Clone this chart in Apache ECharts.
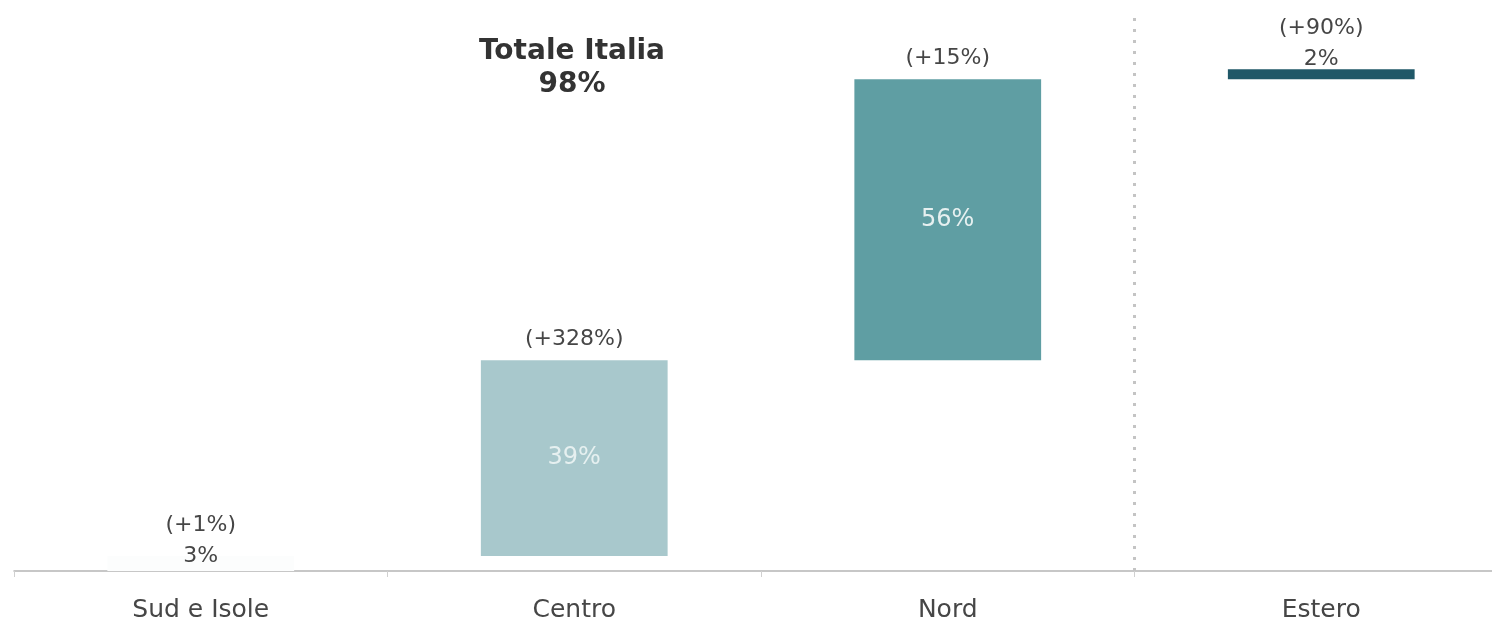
<!DOCTYPE html>
<html>
<head>
<meta charset="utf-8">
<script src="https://cdn.jsdelivr.net/npm/echarts@6/dist/echarts.min.js"></script>
<style>
html,body{margin:0;padding:0;background:#fff;}
#c{width:1492px;height:624px;}
</style>
</head>
<body>
<div id="c"></div>
<script>
const categories = ['Sud e Isole', 'Centro', 'Nord', 'Estero'];
const shares = [3, 39, 56, 2];
const changes = ['+1%', '+328%', '+15%', '+90%'];
const totalLabel = 'Totale Italia';
const totalValue = 98;
const separatorBefore = 'Estero';

// waterfall base = cumulative sum of previous shares
const bases = [];
let acc = 0;
for (let i = 0; i < shares.length; i++) { bases.push(acc); acc += shares[i]; }

const barColors = ['#fcfdfd', '#a8c8cc', '#5f9ea3', '#205868'];
const insideLabel = [false, true, true, false];
const topOffsets = [16, 0, 0, 6];

const chart = echarts.init(document.getElementById('c'));
const font = '"DejaVu Sans", sans-serif';

const valueData = shares.map((v, i) => {
  const d = { value: v, itemStyle: { color: barColors[i] } };
  if (insideLabel[i]) {
    d.label = { show: true, position: 'inside', formatter: v + '%', color: '#e6f0f0', fontSize: 24, fontFamily: font };
  } else {
    d.label = { show: true, position: 'top', distance: 0, offset: [0, topOffsets[i]],
      formatter: '(' + changes[i] + ')\n' + v + '%', color: '#464646', fontSize: 22, lineHeight: 31, fontFamily: font };
  }
  return d;
});

const changeData = changes.map((c, i) => ({
  value: 0,
  label: { show: insideLabel[i], position: 'top', distance: 10, formatter: '(' + c + ')', color: '#464646', fontSize: 22, fontFamily: font }
}));

const sepIndex = categories.indexOf(separatorBefore);

chart.setOption({
  animation: false,
  grid: { left: 14, width: 1494, top: 14, bottom: 53, outerBoundsMode: 'none', containLabel: false },
  title: {
    text: totalLabel + '\n' + totalValue + '%',
    left: 567, top: 30, textAlign: 'center',
    textStyle: { fontSize: 28, fontWeight: 'bold', color: '#333', fontFamily: font, lineHeight: 33 }
  },
  xAxis: [{
    type: 'category',
    data: categories,
    axisLine: { lineStyle: { color: '#b5b5b5', width: 1.5 } },
    axisTick: { show: true, length: 6, lineStyle: { color: '#d0d0d0' } },
    axisLabel: { color: '#464646', fontSize: 25, margin: 27, fontFamily: font },
    splitLine: { show: false }
  }, {
    type: 'value', min: 0, max: categories.length, show: false
  }],
  yAxis: { type: 'value', min: 0, max: 111, show: false, splitLine: { show: false } },
  series: [
    { type: 'bar', stack: 'w', data: bases, itemStyle: { color: 'transparent' }, barWidth: '50%', silent: true },
    { type: 'bar', stack: 'w', data: valueData, barWidth: '50%' },
    { type: 'bar', stack: 'w', data: changeData, barWidth: '50%', itemStyle: { color: 'transparent' } },
    {
      type: 'scatter', xAxisIndex: 1, data: [[sepIndex, 0]], symbolSize: 0, silent: true,
      markLine: {
        symbol: 'none', silent: true, label: { show: false },
        lineStyle: { color: '#c4c4c4', type: [3, 8], width: 3 },
        data: [{ xAxis: sepIndex }]
      }
    }
  ]
});
</script>
</body>
</html>
